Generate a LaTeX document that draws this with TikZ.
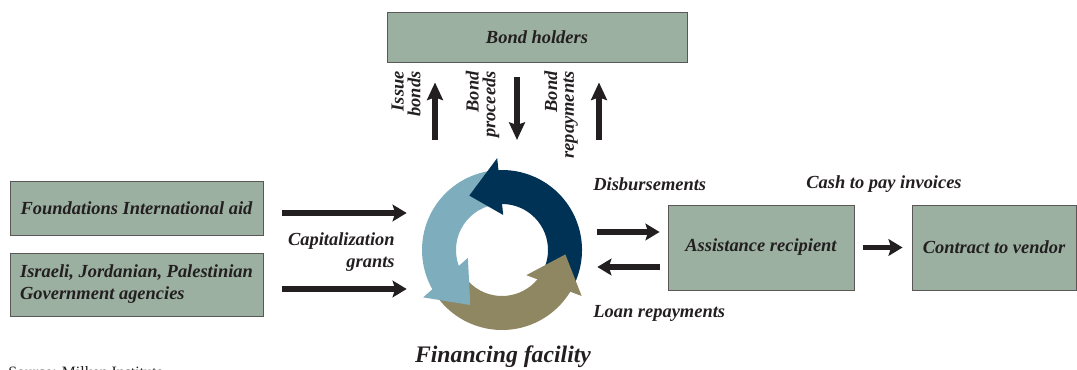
\documentclass[tikz,border=0pt]{standalone}
\usepackage{fontspec}
\setmainfont{Liberation Serif}
\usetikzlibrary{arrows.meta,calc}
\definecolor{boxgreen}{RGB}{155,176,160}
\definecolor{navy}{RGB}{0,50,85}
\definecolor{sky}{RGB}{126,174,190}
\definecolor{khaki}{RGB}{143,135,98}
\definecolor{ink}{RGB}{35,31,32}
\begin{document}
\begin{tikzpicture}[every node/.style={inner sep=0pt,text=ink,font=\fontsize{10.5}{12.5}\selectfont\bfseries\itshape},
  box/.style={draw=ink!75,fill=boxgreen,line width=0.5pt},
  fat/.style={draw=ink,line width=3.2pt,-{Stealth[length=8pt,width=9.5pt,inset=1.5pt]}},
  fatv/.style={fat,-{Stealth[length=10pt,width=9pt,inset=1.5pt]}},
  side/.style={rotate=90,anchor=east,align=right,font=\fontsize{10.5}{9.5}\selectfont\bfseries\itshape}]
  \useasboundingbox (0,0) rectangle (21.54,7.4);
  \node[box,minimum width=6cm,minimum height=1cm] (bond) at (10.74,6.66) {Bond holders};
  \node[box,minimum width=5.06cm,minimum height=1.08cm] (found) at (2.73,3.24) {Foundations International aid};
  \node[box,minimum width=5.06cm,minimum height=1.26cm,align=left] (gov) at (2.73,1.71) {Israeli, Jordanian, Palestinian\\Government agencies};
  \node[box,minimum width=3.72cm,minimum height=1.7cm] (recip) at (15.22,2.45) {Assistance recipient};
  \node[box,minimum width=3.28cm,minimum height=1.7cm] (vendor) at (19.88,2.45) {Contract to vendor};
  \node[circle,minimum size=3.8cm] (fac) at (10.04,2.4) {};

  \node[side] (issue) at (8.12,5.98) {Issue\\bonds};
  \node[side] (proc) at (9.65,5.98) {Bond\\proceeds};
  \node[side] (repay) at (11.22,5.98) {Bond\\repayments};
  \node[anchor=east,align=right] (cap) at (7.9,2.36) {Capitalization\\grants};
  \node[anchor=west] (disb) at (11.86,3.72) {Disbursements};
  \node[anchor=west] (cash) at (16.12,3.72) {Cash to pay invoices};
  \node[anchor=west] (loan) at (11.86,1.14) {Loan repayments};
  \node[font=\fontsize{13.5}{16}\selectfont\bfseries\itshape] (fin) at (10.06,0.26) {Financing facility};
  \node[anchor=north west,font=\fontsize{9}{11}\selectfont] (src) at (0.16,0.08) {Source: Milken Institute};

  % the cycle
  \begin{scope}[shift={(fac.center)}]
    \foreach \col/\s/\e in {navy/-25/95, sky/100/213, khaki/215/332}
      \fill[\col] (\s:1.6) arc[start angle=\s,end angle=\e,radius=1.6] -- (\e:0.92) arc[start angle=\e,end angle=\s,radius=0.92] -- cycle;
    \foreach \col/\i/\o/\t in {navy/88/93/121, sky/193/211/240, khaki/314/330/356}
      \fill[\col] (\i:0.7) -- (\o:1.84) -- (\t:1.27) -- cycle;
  \end{scope}

  \coordinate (issueT) at (8.7,4.6);
  \coordinate (procT) at (10.34,4.6);
  \coordinate (repayT) at (11.98,4.6);
  \draw[fatv,shorten >=0.4cm] (issueT) -- (issueT |- bond.south);
  \draw[fatv,shorten <=0.3cm] (procT |- bond.south) -- (procT);
  \draw[fatv,shorten >=0.4cm] (repayT) -- (repayT |- bond.south);

  \draw[fat,shorten <=0.38cm] ($(found.east)+(0,-0.1)$) -- ($(found.east -| fac.west)+(0,-0.1)$);
  \draw[fat,shorten <=0.38cm] ($(gov.east)+(0,-0.09)$) -- ($(gov.east -| fac.west)+(0,-0.09)$);
  \draw[fat,shorten >=0.16cm] ($(recip.west -| fac.east)+(0,0.31)$) -- ($(recip.west)+(0,0.31)$);
  \draw[fat,shorten <=0.16cm] ($(recip.west)+(0,-0.39)$) -- ($(recip.west -| fac.east)+(0,-0.39)$);
  \draw[fat,shorten <=0.18cm,shorten >=0.18cm] (recip) -- (vendor);
\end{tikzpicture}
\end{document}
